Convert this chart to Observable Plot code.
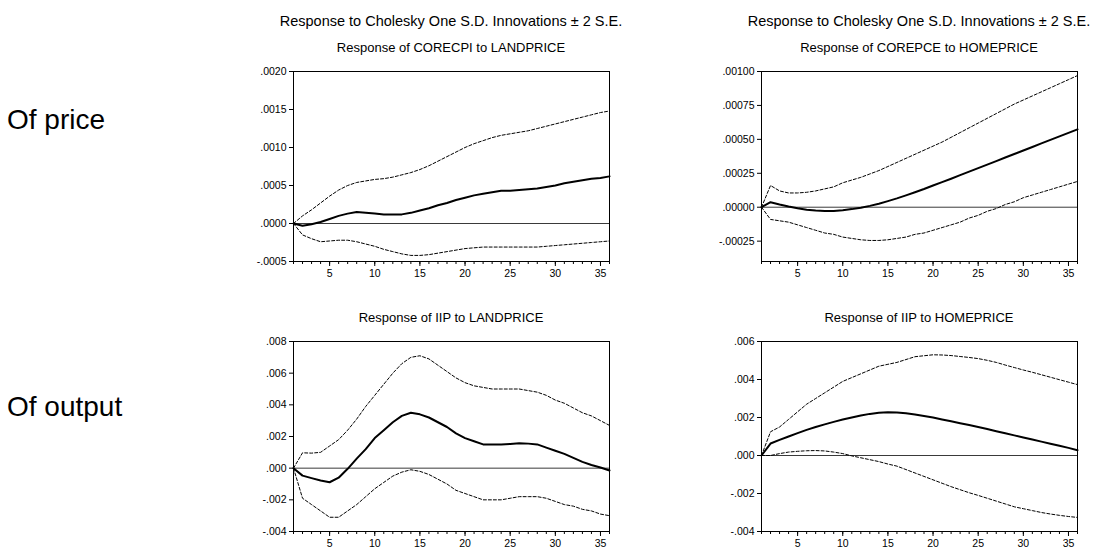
<!DOCTYPE html>
<html>
<head>
<meta charset="utf-8">
<script src="https://cdn.jsdelivr.net/npm/d3@7"></script>
<script src="https://cdn.jsdelivr.net/npm/@observablehq/plot@0.6"></script>
<style>
  html, body { margin: 0; padding: 0; background: #fff; }
  #root { position: relative; width: 1096px; height: 549px; overflow: hidden; background: #fff; font-family: "Liberation Sans", Arial, sans-serif; }
  #root > svg.panel { position: absolute; }
  #overlay { position: absolute; left: 0; top: 0; pointer-events: none; }
</style>
</head>
<body>
<div id="root"></div>
<script>
// ---------- data ----------
const periods = [1,2,3,4,5,6,7,8,9,10,11,12,13,14,15,16,17,18,19,20,21,22,23,24,25,26,27,28,29,30,31,32,33,34,35,36];
const majorTicks = [5, 10, 15, 20, 25, 30, 35];

// Response of CORECPI to LANDPRICE
const corecpiLandIrf = [0, -0.00003, -0.00001, 0.00002, 0.00006, 0.0001, 0.00013, 0.00015, 0.00014, 0.00013, 0.00012, 0.00012, 0.00012, 0.00014, 0.00017, 0.0002, 0.00024, 0.00027, 0.00031, 0.00034, 0.00037, 0.00039, 0.00041, 0.00043, 0.00043, 0.00044, 0.00045, 0.00046, 0.00048, 0.0005, 0.00053, 0.00055, 0.00057, 0.00059, 0.0006, 0.00062];
const corecpiLandUpper = [0, 0.0001, 0.00018, 0.00027, 0.00036, 0.00044, 0.0005, 0.00054, 0.00056, 0.00058, 0.00059, 0.00061, 0.00064, 0.00067, 0.00071, 0.00076, 0.00082, 0.00088, 0.00094, 0.001, 0.00105, 0.00109, 0.00113, 0.00116, 0.00118, 0.0012, 0.00122, 0.00125, 0.00128, 0.00131, 0.00134, 0.00137, 0.0014, 0.00143, 0.00146, 0.00148];
const corecpiLandLower = [0, -0.00015, -0.0002, -0.00024, -0.00023, -0.00022, -0.00022, -0.00024, -0.00027, -0.0003, -0.00034, -0.00037, -0.0004, -0.00042, -0.00042, -0.00041, -0.00039, -0.00037, -0.00035, -0.00033, -0.00032, -0.00031, -0.00031, -0.00031, -0.00031, -0.00031, -0.00031, -0.00031, -0.0003, -0.00029, -0.00028, -0.00027, -0.00026, -0.00025, -0.00024, -0.00023];

// Response of COREPCE to HOMEPRICE
const corepceHomeIrf = [0, 0.000037, 0.00002, 0.000005, -0.000008, -0.000018, -0.000025, -0.000028, -0.000027, -0.000022, -0.000014, -0.000004, 0.00001, 0.000026, 0.000045, 0.000065, 0.000087, 0.00011, 0.000134, 0.00016, 0.000185, 0.00021, 0.000236, 0.000262, 0.000288, 0.000314, 0.00034, 0.000366, 0.000392, 0.000418, 0.000444, 0.00047, 0.000496, 0.000522, 0.000548, 0.000574];
const corepceHomeUpper = [0, 0.00016, 0.00012, 0.000105, 0.000105, 0.00011, 0.00012, 0.000135, 0.00015, 0.00018, 0.0002, 0.00022, 0.000245, 0.00027, 0.0003, 0.00033, 0.00036, 0.00039, 0.00042, 0.00045, 0.00048, 0.000515, 0.00055, 0.000585, 0.00062, 0.000655, 0.00069, 0.000725, 0.00076, 0.00079, 0.00082, 0.00085, 0.00088, 0.00091, 0.00094, 0.00097];
const corepceHomeLower = [0, -0.00009, -0.0001, -0.00011, -0.00013, -0.00015, -0.00017, -0.00019, -0.0002, -0.00022, -0.00023, -0.00024, -0.000245, -0.000245, -0.00024, -0.00023, -0.00022, -0.0002, -0.00019, -0.00017, -0.00015, -0.00013, -0.00011, -0.00008, -0.00006, -0.00003, -0.00001, 0.00002, 0.00004, 0.00007, 0.00009, 0.00011, 0.00013, 0.00015, 0.00017, 0.00019];

// Response of IIP to LANDPRICE
const iipLandIrf = [0, -0.00047, -0.00063, -0.00078, -0.00089, -0.0006, -0.00004, 0.0006, 0.0012, 0.0019, 0.0024, 0.0029, 0.0033, 0.0035, 0.0034, 0.0032, 0.0029, 0.0026, 0.0022, 0.0019, 0.0017, 0.0015, 0.0015, 0.0015, 0.00153, 0.00157, 0.00155, 0.0015, 0.0013, 0.0011, 0.0009, 0.00065, 0.0004, 0.0002, 0.00004, -0.00015];
const iipLandUpper = [0, 0.00097, 0.00095, 0.001, 0.0014, 0.0018, 0.0024, 0.0031, 0.0039, 0.0046, 0.0053, 0.006, 0.0066, 0.007, 0.0071, 0.0069, 0.0065, 0.0061, 0.0057, 0.0054, 0.0052, 0.0051, 0.005, 0.005, 0.005, 0.005, 0.0049, 0.0048, 0.0046, 0.0043, 0.0041, 0.0038, 0.0035, 0.0033, 0.003, 0.0027];
const iipLandLower = [0, -0.0019, -0.0023, -0.0027, -0.0031, -0.0031, -0.0027, -0.0023, -0.0018, -0.0013, -0.0009, -0.0005, -0.00025, -0.0001, -0.0002, -0.0004, -0.0007, -0.001, -0.0014, -0.0016, -0.0018, -0.002, -0.002, -0.002, -0.0019, -0.0018, -0.0018, -0.0018, -0.0019, -0.0021, -0.0023, -0.0024, -0.0026, -0.0027, -0.0029, -0.003];

// Response of IIP to HOMEPRICE
const iipHomeIrf = [0, 0.00063, 0.00082, 0.001, 0.00118, 0.00135, 0.0015, 0.00164, 0.00177, 0.00189, 0.002, 0.0021, 0.00219, 0.00225, 0.00227, 0.00226, 0.00222, 0.00216, 0.00208, 0.002, 0.0019, 0.0018, 0.0017, 0.0016, 0.0015, 0.00139, 0.00128, 0.00117, 0.00106, 0.00095, 0.00084, 0.00073, 0.00062, 0.00051, 0.0004, 0.00028];
const iipHomeUpper = [0, 0.00125, 0.0015, 0.0019, 0.0023, 0.0027, 0.003, 0.0033, 0.0036, 0.0039, 0.0041, 0.0043, 0.0045, 0.0047, 0.0048, 0.0049, 0.00505, 0.0052, 0.00525, 0.0053, 0.00529, 0.00526, 0.00521, 0.00516, 0.0051, 0.00501, 0.0049, 0.00476, 0.00463, 0.0045, 0.00438, 0.00425, 0.00412, 0.00399, 0.00386, 0.00373];
const iipHomeLower = [0, 0.0, 0.0001, 0.00018, 0.00022, 0.00025, 0.00026, 0.00024, 0.00018, 0.0001, -0.00002, -0.00012, -0.00022, -0.00032, -0.00045, -0.00056, -0.00074, -0.00092, -0.0011, -0.00128, -0.00146, -0.00164, -0.0018, -0.00196, -0.0021, -0.00225, -0.0024, -0.00255, -0.0027, -0.0028, -0.0029, -0.003, -0.00308, -0.00315, -0.00321, -0.00326];

// y-axis ticks and their labels
const corecpiTicks = [-0.0005, 0, 0.0005, 0.001, 0.0015, 0.002];
const corecpiTickLabels = ["-.0005", ".0000", ".0005", ".0010", ".0015", ".0020"];
const corepceTicks = [-0.00025, 0, 0.00025, 0.0005, 0.00075, 0.001];
const corepceTickLabels = ["-.00025", ".00000", ".00025", ".00050", ".00075", ".00100"];
const iipLandTicks = [-0.004, -0.002, 0, 0.002, 0.004, 0.006, 0.008];
const iipLandTickLabels = ["-.004", "-.002", ".000", ".002", ".004", ".006", ".008"];
const iipHomeTicks = [-0.004, -0.002, 0, 0.002, 0.004, 0.006];
const iipHomeTickLabels = ["-.004", "-.002", ".000", ".002", ".004", ".006"];

const mainTitle = "Response to Cholesky One S.D. Innovations \u00b1 2 S.E.";
const rowLabels = ["Of price", "Of output"];

// ---------- drawing ----------
const root = document.getElementById("root");
const FONT = "'Liberation Sans', Arial, Helvetica, sans-serif";

function panel(cfg) {
  const rows = periods.map((p, i) => ({p, irf: cfg.irf[i], up: cfg.upper[i], lo: cfg.lower[i]}));
  const lab = new Map(cfg.ticks.map((t, i) => [t, cfg.tickLabels[i]]));
  const chart = Plot.plot({
    width: cfg.width,
    height: cfg.height,
    marginLeft: cfg.mL,
    marginRight: cfg.mR,
    marginTop: cfg.mT,
    marginBottom: cfg.mB,
    x: {domain: [1, 36]},
    y: {domain: cfg.domain},
    style: {fontFamily: FONT, fontSize: "10.5px", background: "transparent", color: "black", overflow: "visible"},
    marks: [
      Plot.ruleY([0], {stroke: "#3a3a3a", strokeWidth: 1}),
      Plot.line(rows, {x: "p", y: "up", stroke: "black", strokeWidth: 1, strokeDasharray: "3,2"}),
      Plot.line(rows, {x: "p", y: "lo", stroke: "black", strokeWidth: 1, strokeDasharray: "3,2"}),
      Plot.line(rows, {x: "p", y: "irf", stroke: "black", strokeWidth: 2}),
      Plot.axisX({ticks: periods, tickSize: 3, tickFormat: () => "", label: null}),
      Plot.axisX({ticks: majorTicks, tickSize: 5, tickPadding: 3, tickFormat: d => String(d), label: null}),
      Plot.axisY({ticks: cfg.ticks, tickSize: 4, tickPadding: 3, tickFormat: d => lab.get(d), label: null}),
      Plot.frame({stroke: "black", strokeWidth: 1})
    ]
  });
  chart.classList.add("panel");
  chart.style.left = cfg.left + "px";
  chart.style.top = cfg.top + "px";
  root.appendChild(chart);
}

panel({irf: corecpiLandIrf, upper: corecpiLandUpper, lower: corecpiLandLower,
  ticks: corecpiTicks, tickLabels: corecpiTickLabels, domain: [-0.0005, 0.002],
  left: 240, top: 60, width: 380, height: 230, mL: 53, mR: 11, mT: 11, mB: 29});
panel({irf: corepceHomeIrf, upper: corepceHomeUpper, lower: corepceHomeLower,
  ticks: corepceTicks, tickLabels: corepceTickLabels, domain: [-0.0004, 0.001],
  left: 700, top: 60, width: 390, height: 230, mL: 61, mR: 13, mT: 11, mB: 29});
panel({irf: iipLandIrf, upper: iipLandUpper, lower: iipLandLower,
  ticks: iipLandTicks, tickLabels: iipLandTickLabels, domain: [-0.004, 0.008],
  left: 240, top: 330, width: 380, height: 219, mL: 53, mR: 11, mT: 11, mB: 18});
panel({irf: iipHomeIrf, upper: iipHomeUpper, lower: iipHomeLower,
  ticks: iipHomeTicks, tickLabels: iipHomeTickLabels, domain: [-0.004, 0.006],
  left: 700, top: 330, width: 390, height: 219, mL: 61, mR: 13, mT: 11, mB: 18});

// titles and row labels as real text
const NS = "http://www.w3.org/2000/svg";
const overlay = document.createElementNS(NS, "svg");
overlay.setAttribute("id", "overlay");
overlay.setAttribute("width", 1096);
overlay.setAttribute("height", 549);
function addText(str, x, y, size, anchor) {
  const t = document.createElementNS(NS, "text");
  t.setAttribute("x", x);
  t.setAttribute("y", y);
  t.setAttribute("font-size", size);
  t.setAttribute("font-family", FONT);
  t.setAttribute("text-anchor", anchor);
  t.setAttribute("fill", "black");
  t.textContent = str;
  overlay.appendChild(t);
}
addText(mainTitle, 451, 25.5, 14.5, "middle");
addText(mainTitle, 919, 25.5, 14.5, "middle");
addText("Response of CORECPI to LANDPRICE", 451, 51.5, 13, "middle");
addText("Response of COREPCE to HOMEPRICE", 919, 51.5, 13, "middle");
addText("Response of IIP to LANDPRICE", 451, 322, 13, "middle");
addText("Response of IIP to HOMEPRICE", 919, 322, 13, "middle");
addText(rowLabels[0], 7, 129, 28, "start");
addText(rowLabels[1], 7, 416, 28, "start");
root.appendChild(overlay);
</script>
</body>
</html>
